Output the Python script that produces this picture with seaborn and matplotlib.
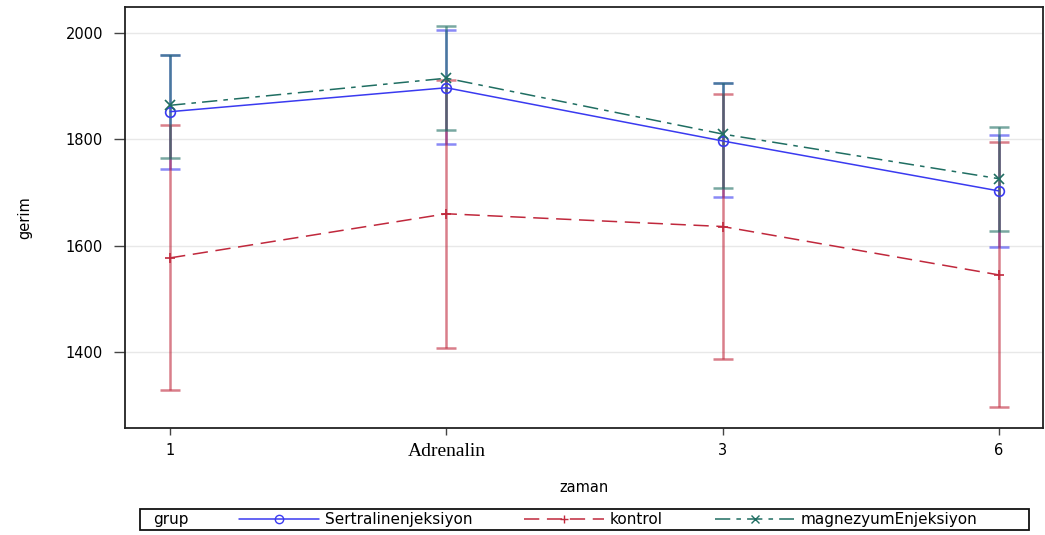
import numpy as np
import pandas as pd
import matplotlib
matplotlib.use("Agg")
import matplotlib.pyplot as plt
from matplotlib.lines import Line2D
from matplotlib.patches import Rectangle
import seaborn as sns

# ---- data ----
zaman = ["1", "Adrenalin", "3", "6"]
groups = ["Sertralinenjeksiyon", "kontrol", "magnezyumEnjeksiyon"]
sertralin_mean = [1852, 1897, 1797, 1703]
sertralin_lo = [1745, 1792, 1691, 1597]
sertralin_hi = [1959, 2005, 1906, 1808]
kontrol_mean = [1577, 1660, 1636, 1545]
kontrol_lo = [1328, 1408, 1386, 1296]
kontrol_hi = [1827, 1912, 1886, 1795]
magnez_mean = [1864, 1915, 1810, 1726]
magnez_lo = [1765, 1817, 1709, 1628]
magnez_hi = [1959, 2013, 1906, 1824]
yticks = [1400, 1600, 1800, 2000]

means = [sertralin_mean, kontrol_mean, magnez_mean]
los = [sertralin_lo, kontrol_lo, magnez_lo]
his = [sertralin_hi, kontrol_hi, magnez_hi]
colors = ["#3a3af0", "#c0283c", "#1f6e62"]
markers = ["o", "+", "x"]
dashes = [(None, None), (10, 5), (10, 4, 3, 4)]

rows = []
for g, m in zip(groups, means):
    for i, v in enumerate(m):
        rows.append({"zaman": i, "gerim": v, "grup": g})
df = pd.DataFrame(rows)

sns.set_theme(style="white")
plt.rcParams["font.family"] = ["DejaVu Sans"]
plt.rcParams["text.color"] = "black"
plt.rcParams["axes.labelcolor"] = "black"
plt.rcParams["xtick.color"] = "black"
plt.rcParams["ytick.color"] = "black"

fig = plt.figure(figsize=(10.45, 5.35), dpi=100)
ax = fig.add_axes([0.120, 0.200, 0.878, 0.787])

# error bars first
for i, g in enumerate(groups):
    m = np.array(means[i]); lo = np.array(los[i]); hi = np.array(his[i])
    ax.errorbar(range(len(zaman)), m, yerr=[m - lo, hi - m], fmt="none",
                ecolor=colors[i], elinewidth=1.8, capsize=7, capthick=1.8,
                alpha=0.6, zorder=2)

for i, g in enumerate(groups):
    sub = df[df["grup"] == g]
    sns.lineplot(data=sub, x="zaman", y="gerim", ax=ax, color=colors[i],
                 lw=1.1, marker=markers[i], markersize=7,
                 markerfacecolor="none" if markers[i] == "o" else colors[i],
                 markeredgecolor=colors[i], markeredgewidth=1.2,
                 legend=False, zorder=3)
    ln = ax.get_lines()[-1]
    if dashes[i][0] is not None:
        ln.set_dashes(dashes[i])

ax.set_xlim(-0.162, 3.16)
ax.set_ylim(1257, 2049)
ax.set_yticks(yticks)
ax.set_yticklabels([str(t) for t in yticks], fontsize=10.5)
ax.set_xticks(range(len(zaman)))
ax.set_xticklabels(zaman, fontsize=10.5)
for lab in ax.get_xticklabels():
    if lab.get_text() == "Adrenalin":
        lab.set_family("Liberation Serif")
        lab.set_fontsize(14)
ax.yaxis.grid(True, color="#e8e8e8", lw=1)
ax.set_axisbelow(True)
ax.tick_params(axis="y", direction="out", length=8, width=1,
               color="#444444", left=True, pad=8)
ax.tick_params(axis="x", direction="out", length=5, width=1,
               color="#444444", bottom=True, pad=6)
for s in ax.spines.values():
    s.set_color("#222222"); s.set_linewidth(1.3)
ax.set_xlabel("zaman", fontsize=10.5, labelpad=14)
ax.set_ylabel("gerim", fontsize=10.5, labelpad=24)

# legend box at bottom
fig.patches.append(Rectangle((0.134, 0.010), 0.851, 0.038, transform=fig.transFigure,
                             fill=False, edgecolor="#111111", lw=1.3))
fig.text(0.147, 0.029, "grup", fontsize=11, va="center", ha="left")
handles = [Line2D([], [], color=colors[i], lw=1.1, marker=markers[i], markersize=6,
                  markerfacecolor="none", markeredgecolor=colors[i],
                  linestyle="-" if i == 0 else (0, dashes[i]))
           for i in range(3)]
fig.legend(handles, groups, ncol=3, loc="center left", bbox_to_anchor=(0.229, 0.029),
           frameon=False, fontsize=11, handlelength=5.2, columnspacing=3.4,
           handletextpad=0.4, borderaxespad=0, borderpad=0)

fig.savefig("out.png", dpi=100)
